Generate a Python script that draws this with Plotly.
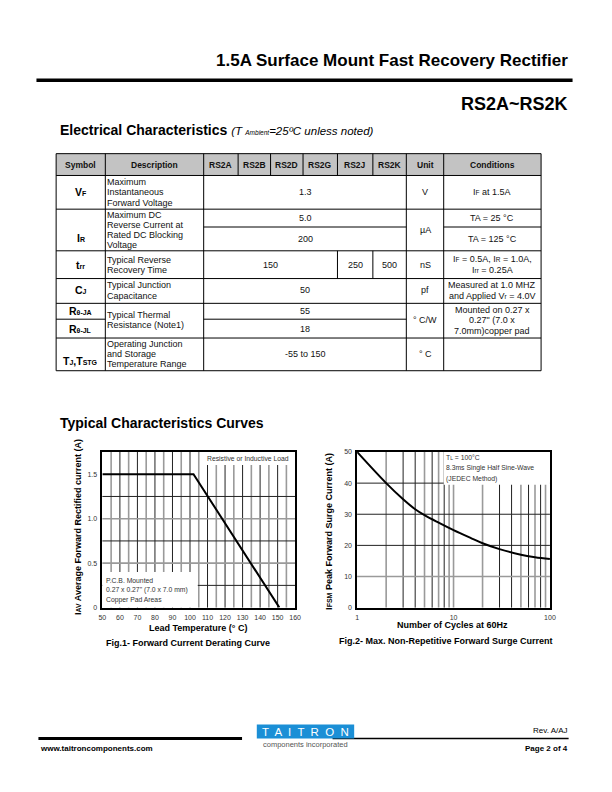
import plotly.graph_objects as go

W, H = 612, 792

# ---- data ----
# Fig.1 forward current derating
lead_temp = [50, 102, 151]
avg_current = [1.5, 1.5, 0.0]

# Fig.2 surge current vs cycles
cycles = [1, 2, 3, 4, 5, 7, 10, 15, 20, 30, 50, 70, 100]
surge_current = [50, 40, 34.8, 31.6, 29.7, 27.3, 24.9, 22.4, 20.7, 18.8, 17.0, 16.2, 15.6]

# table text
header = ["Symbol", "Description", "RS2A", "RS2B", "RS2D", "RS2G", "RS2J", "RS2K", "Unit", "Conditions"]
symbols = ["V<span style='font-size:7px'>F</span>",
           "I<span style='font-size:7px'>R</span>",
           "t<span style='font-size:7px'>rr</span>",
           "C<span style='font-size:7px'>J</span>",
           "R<span style='font-size:7px'>θ-JA</span>",
           "R<span style='font-size:7px'>θ-JL</span>",
           "T<span style='font-size:7px'>J</span>,T<span style='font-size:7px'>STG</span>"]
descriptions = [["Maximum", "Instantaneous", "Forward Voltage"],
                ["Maximum DC", "Reverse Current at", "Rated DC Blocking", "Voltage"],
                ["Typical Reverse", "Recovery Time"],
                ["Typical Junction", "Capacitance"],
                ["Typical Thermal", "Resistance (Note1)"],
                ["Operating Junction", "and Storage", "Temperature Range"]]
values = ["1.3", "5.0", "200", "150", "250", "500", "50", "55", "18", "-55 to 150"]
units = ["V", "µA", "nS", "pf", "° C/W", "° C"]
conditions = [["I<span style='font-size:6.5px'>F</span> at 1.5A"],
              ["TA = 25 °C"],
              ["TA = 125 °C"],
              ["I<span style='font-size:6.5px'>F</span> = 0.5A, I<span style='font-size:6.5px'>R</span> = 1.0A,",
               "I<span style='font-size:6.5px'>rr</span> = 0.25A"],
              ["Measured at 1.0 MHZ", "and Applied V<span style='font-size:6.5px'>r</span> = 4.0V"],
              ["Mounted on 0.27 x", "0.27\" (7.0 x", "7.0mm)copper pad"]]

FONT = "Liberation Sans, Arial, sans-serif"


def px(x):
    return x / W


def py(y):
    return 1 - y / H


shapes = []
annotations = []


def text(x, y, s, size=8, bold=False, anchor="center", color="#111", angle=0):
    if bold:
        s = "<b>" + s + "</b>"
    if anchor == "left":
        x -= 2
    elif anchor == "right":
        x += 2
    annotations.append(dict(x=px(x), y=py(y), xref="paper", yref="paper", text=s,
                            showarrow=False, xanchor=anchor, yanchor="middle", textangle=angle,
                            align=anchor, font=dict(family=FONT, size=size, color=color)))


def lines(x, yc, rows, size=9, step=10.3, anchor="center", color="#111"):
    y0 = yc - step * (len(rows) - 1) / 2
    for i, r in enumerate(rows):
        text(x, y0 + i * step, r, size, anchor=anchor, color=color)


def hline(x0, x1, y, w=1, color="black"):
    shapes.append(dict(type="line", xref="paper", yref="paper", x0=px(x0), x1=px(x1),
                       y0=py(y), y1=py(y), line=dict(color=color, width=w)))


def vline(x, y0, y1, w=1, color="black"):
    shapes.append(dict(type="line", xref="paper", yref="paper", x0=px(x), x1=px(x),
                       y0=py(y0), y1=py(y1), line=dict(color=color, width=w)))


def box(x0, y0, x1, y1, fill, w=0, color="black"):
    shapes.append(dict(type="rect", xref="paper", yref="paper", x0=px(x0), x1=px(x1),
                       y0=py(y0), y1=py(y1), fillcolor=fill, layer="above",
                       line=dict(color=color, width=w)))


# ---- page header ----
text(573, 57, "1.5A Surface Mount Fast Recovery Rectifier", 17, True, "right", "black")
hline(33, 578, 77, 3.5)
text(573, 101, "RS2A~RS2K", 18, True, "right", "black")
text(57, 127, "<b>Electrical Characteristics</b> <i><span style='font-size:11.5px'>(T "
     "<span style='font-size:6.5px'>Ambient</span>=25ºC unless noted)</span></i>",
     14, False, "left", "black")

# ---- table ----
col_x = [53, 103, 203, 238, 271, 304, 339, 375, 409, 447, 546]
row_y = [151, 173, 207, 225, 249, 277, 302, 318, 337, 370]

box(col_x[0], row_y[0], col_x[-1], row_y[1], "#c3c3c3")
box(col_x[0], row_y[0], col_x[-1], row_y[-1], "rgba(0,0,0,0)", 1)
for y in [173, 207, 249, 277, 302, 337]:
    hline(col_x[0], col_x[-1], y)
hline(col_x[2], col_x[8], 225)
hline(col_x[9], col_x[10], 225)
hline(col_x[0], col_x[1], 318)
hline(col_x[2], col_x[8], 318)
for x in [col_x[1], col_x[2], col_x[8], col_x[9]]:
    vline(x, row_y[0], row_y[-1])
for x in col_x[3:8]:
    vline(x, row_y[0], row_y[1])
vline(col_x[6], 249, 277)
vline(col_x[7], 249, 277)

for i, h in enumerate(header):
    text((col_x[i] + col_x[i + 1]) / 2, 162, h, 8.5, True)

sym_y = [190, 236, 263, 289, 310, 328, 360]
for s, y in zip(symbols, sym_y):
    text(78, y, s, 10.5, True, color="black")

desc_y = [190, 228, 263, 289, 319, 353]
for d, y in zip(descriptions, desc_y):
    lines(105, y, d, 9, 10.3, anchor="left")

mid = (col_x[2] + col_x[8]) / 2
val_pos = [(mid, 190), (mid, 216), (mid, 237), ((col_x[2] + col_x[6]) / 2, 263),
           ((col_x[6] + col_x[7]) / 2, 263), ((col_x[7] + col_x[8]) / 2, 263),
           (mid, 289), (mid, 310), (mid, 328), (mid, 353)]
for v, (x, y) in zip(values, val_pos):
    text(x, y, v, 9)

unit_y = [190, 228, 263, 289, 319, 353]
for u, y in zip(units, unit_y):
    text((col_x[8] + col_x[9]) / 2, y, u, 9)

cond_y = [190, 216, 237, 263, 289, 319]
for c, y in zip(conditions, cond_y):
    lines((col_x[9] + col_x[10]) / 2, y, c, 9, 10.6)

# ---- curves section ----
text(57, 423, "Typical Characteristics Curves", 14, True, "left", "black")

fig = go.Figure()
fig.add_trace(go.Scatter(x=lead_temp, y=avg_current, mode="lines",
                         line=dict(color="black", width=2), xaxis="x", yaxis="y",
                         showlegend=False, hoverinfo="skip"))
fig.add_trace(go.Scatter(x=cycles, y=surge_current, mode="lines",
                         line=dict(color="black", width=2, shape="spline", smoothing=1),
                         xaxis="x2", yaxis="y2", showlegend=False, hoverinfo="skip"))

P1 = (100, 452, 296, 609)   # plot area in page pixels (left, top, right, bottom)
P2 = (359, 452, 555, 609)
f1x = [px(P1[0]), px(P1[2])]
f1y = [py(P1[3]), py(P1[1])]
f2x = [px(P2[0]), px(P2[2])]
f2y = [py(P2[3]), py(P2[1])]

DARK = dict(color="#222", width=1)
GREY = dict(color="#9a9a9a", width=1.6)

# grid lines fig 1
for t in range(55, 160, 5):
    shapes.append(dict(type="line", xref="x", yref="y domain", x0=t, x1=t, y0=0, y1=1,
                       layer="below", line=DARK if t % 10 == 0 else GREY))
for v, dark in [(0.25, True), (0.5, False), (0.75, True), (1.0, False), (1.25, True)]:
    shapes.append(dict(type="line", xref="x domain", yref="y", x0=0, x1=1, y0=v, y1=v,
                       layer="below", line=DARK if dark else GREY))
# grid lines fig 2
grey2 = [2, 5, 7, 9, 10, 20, 50, 70, 90]
for t in [2, 3, 4, 5, 6, 7, 8, 9, 10, 20, 30, 40, 50, 60, 70, 80, 90]:
    shapes.append(dict(type="line", xref="x2", yref="y2 domain", x0=t, x1=t, y0=0, y1=1,
                       layer="below", line=GREY if t in grey2 else DARK))
for v in [10, 20, 30, 40]:
    shapes.append(dict(type="line", xref="x2 domain", yref="y2", x0=0, x1=1, y0=v, y1=v,
                       layer="below", line=GREY if v == 10 else DARK))


def plot_box(P, ax, x0, y0, x1, y1):
    # white label box inside a plot, given in page pixels
    l, t, r, b = P
    shapes.append(dict(type="rect", xref=ax[0] + " domain", yref=ax[1] + " domain",
                       x0=(x0 - l) / (r - l), x1=(x1 - l) / (r - l),
                       y0=(b - y1) / (b - t), y1=(b - y0) / (b - t),
                       fillcolor="white", line=dict(width=0), layer="below"))


plot_box(P1, ("x", "y"), 201, 452, 296, 465)
plot_box(P1, ("x", "y"), 100, 573, 197, 609)
plot_box(P2, ("x2", "y2"), 447, 452, 555, 485)

text(248, 459, "Resistive or Inductive Load", 6.8, anchor="center", color="#333")
text(104, 582, "P.C.B. Mounted", 6.8, anchor="left", color="#333")
text(104, 591, "0.27 x 0.27\" (7.0 x 7.0 mm)", 6.8, anchor="left", color="#333")
text(104, 601, "Copper Pad Areas", 6.8, anchor="left", color="#333")
text(449, 458, "T<span style='font-size:5px'>L</span> = 100°C", 6.8, anchor="left", color="#333")
text(449, 468, "8.3ms Single Half Sine-Wave", 6.8, anchor="left", color="#333")
text(449, 479, "(JEDEC Method)", 6.8, anchor="left", color="#333")

# axis titles and captions
text(76, 528, "I<span style='font-size:7px'>AV</span> Average Forward Rectified current (A)", 9, True,
     angle=-90, color="black")
text(197, 630, "Lead Temperature (° C)", 9, True, color="black")
text(187, 645, "Fig.1- Forward Current Derating Curve", 9, True, color="black")
text(331, 532, "I<span style='font-size:7px'>FSM</span> Peak Forward Surge Current (A)", 9, True,
     angle=-90, color="black")
text(456, 627, "Number of Cycles at 60Hz", 9, True, color="black")
text(449, 643, "Fig.2- Max. Non-Repetitive Forward Surge Current", 9, True, color="black")

# ---- footer ----
hline(35, 242, 741, 3)
hline(334, 574, 741, 1.5)
box(257, 727, 356, 741, "#1b8fd6")
text(306.5, 734.5, "T  A  I  T  R  O  N", 11.5, color="white")
text(306.5, 747, "components incorporated", 7.5, color="#555")
text(37, 751, "www.taitroncomponents.com", 8, True, "left", "black")
text(573, 733, "Rev. A/AJ", 8, False, "right", "black")
text(573, 751, "Page 2 of 4", 8, True, "right", "black")

tickfont = dict(family=FONT, size=7, color="#333")
axis_common = dict(showgrid=False, zeroline=False, showline=True, mirror=True,
                   linecolor="black", linewidth=1.5, ticks="outside", ticklen=2,
                   tickcolor="rgba(0,0,0,0)", tickfont=tickfont, fixedrange=True)

fig.update_layout(
    width=W, height=H, autosize=False,
    margin=dict(l=0, r=0, t=0, b=0, pad=0),
    paper_bgcolor="white", plot_bgcolor="rgba(0,0,0,0)",
    showlegend=False,
    xaxis=dict(domain=f1x, range=[50, 160], tickvals=list(range(50, 161, 10)), anchor="y",
               **axis_common),
    yaxis=dict(domain=f1y, range=[0, 1.75], tickvals=[0, 0.5, 1.0, 1.5],
               ticktext=["0", "0.5", "1.0", "1.5"], anchor="x", **axis_common),
    xaxis2=dict(domain=f2x, type="log", range=[0, 2], tickvals=[1, 10, 100], anchor="y2",
                **axis_common),
    yaxis2=dict(domain=f2y, range=[0, 50], tickvals=list(range(0, 51, 10)), anchor="x2",
                **axis_common),
    shapes=shapes,
    annotations=annotations,
)

fig.write_html("out.html", config={"displayModeBar": False},
               post_script="document.body.style.margin='0';")
